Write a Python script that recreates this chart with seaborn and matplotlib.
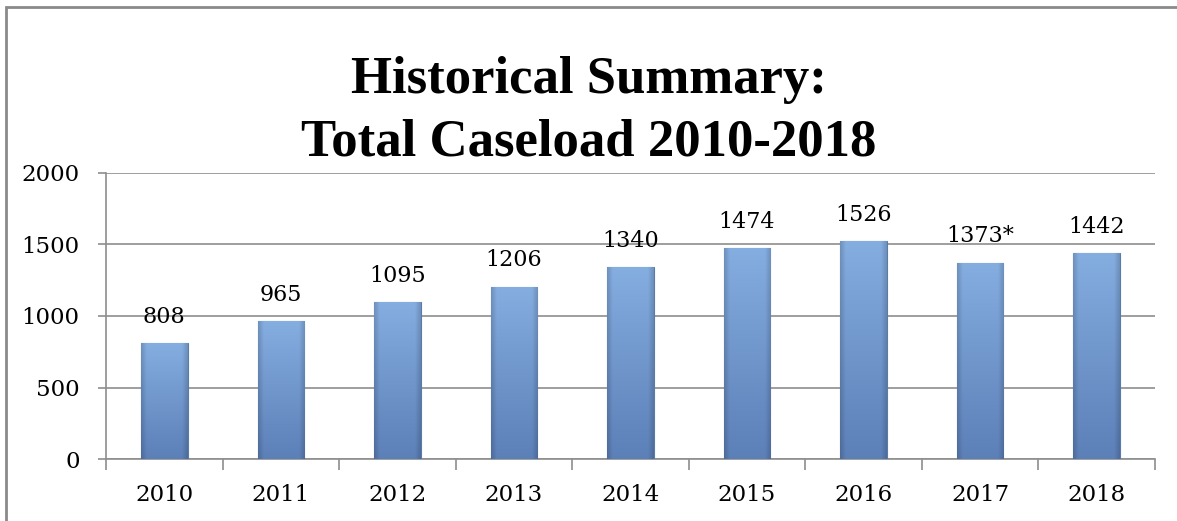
import numpy as np
import matplotlib
matplotlib.use("Agg")
import matplotlib.pyplot as plt
from matplotlib.patches import Rectangle
from matplotlib.ticker import FixedLocator
import seaborn as sns
import pandas as pd

years = ["2010", "2011", "2012", "2013", "2014", "2015", "2016", "2017", "2018"]
caseload = [808, 965, 1095, 1206, 1340, 1474, 1526, 1373, 1442]
value_labels = ["808", "965", "1095", "1206", "1340", "1474", "1526", "1373*", "1442"]
y_ticks = [0, 500, 1000, 1500, 2000]
title = "Historical Summary:\nTotal Caseload 2010-2018"

sns.set_theme(style="white")
plt.rcParams["font.family"] = ["DejaVu Serif"]
plt.rcParams["text.color"] = "black"
plt.rcParams["xtick.color"] = "black"
plt.rcParams["ytick.color"] = "black"

df = pd.DataFrame({"year": years, "caseload": caseload})

fig = plt.figure(figsize=(11.77, 5.21), dpi=100)
ax = fig.add_axes([106/1177, 1-459/521, (1155-106)/1177, (459-173)/521])

sns.barplot(data=df, x="year", y="caseload", ax=ax, color="#6d94c9",
            width=0.40, saturation=1, edgecolor="#5a7aa8", linewidth=0.8, zorder=3)

# gradient shading on bars: vertical light->dark with darker side bands
nx, ny = 60, 100
gx = np.linspace(0, 1, nx)
gy = np.linspace(1, 0, ny)  # row 0 = top
top = np.array([0.52, 0.68, 0.88])
bot = np.array([0.36, 0.50, 0.72])
base = top[None, :] * gy[:, None] + bot[None, :] * (1 - gy[:, None])
edge = np.minimum(gx, 1 - gx)
shade = 1 - 0.16 * np.clip(1 - edge / 0.12, 0, 1)
img = base[:, None, :] * shade[None, :, None]
for p in ax.patches:
    x0, y0 = p.get_x(), p.get_y()
    w, h = p.get_width(), p.get_height()
    im = ax.imshow(np.clip(img, 0, 1), extent=[x0, x0 + w, y0, y0 + h],
                   aspect="auto", zorder=3.5, interpolation="bilinear")
    im.set_clip_path(p)

for p, lab in zip(ax.patches, value_labels):
    ax.annotate(lab, (p.get_x() + p.get_width()/2, p.get_height()),
                xytext=(0, 11), textcoords="offset points", ha="center",
                va="bottom", fontsize=16, color="black", zorder=5)

ax.set_ylim(0, 2000)
ax.set_xlim(-0.5, len(years) - 0.5)
ax.set_yticks(y_ticks)
ax.yaxis.grid(True, color="#8e8e8e", linewidth=1.2, zorder=0)
ax.xaxis.grid(False)
ax.set_axisbelow(True)
ax.set_xlabel("")
ax.set_ylabel("")
for s in ["top", "right"]:
    ax.spines[s].set_visible(False)
for s in ["left", "bottom"]:
    ax.spines[s].set_color("#8e8e8e")
    ax.spines[s].set_linewidth(1.2)

ax.tick_params(axis="y", which="major", length=6, width=1.2, color="#8e8e8e",
               labelsize=16.5, labelcolor="black", pad=13, left=True, direction="out")
ax.tick_params(axis="x", which="major", length=0, labelsize=16.5,
               labelcolor="black", pad=18)
ax.xaxis.set_minor_locator(FixedLocator(np.arange(-0.5, len(years), 1.0)))
ax.tick_params(axis="x", which="minor", length=8, width=1.2, color="#8e8e8e",
               bottom=True, direction="out")

fig.text(0.5, 1 - 111/521, title, ha="center", va="center", color="black",
         fontsize=38, fontweight="bold", family="Liberation Serif",
         linespacing=1.4)

fig.patches.append(Rectangle((6/1177, -0.05), 1.2, 1 - 7/521 + 0.05,
                             transform=fig.transFigure, fill=False,
                             edgecolor="#8a8a8a", linewidth=2))

fig.savefig("out.png", dpi=100)
